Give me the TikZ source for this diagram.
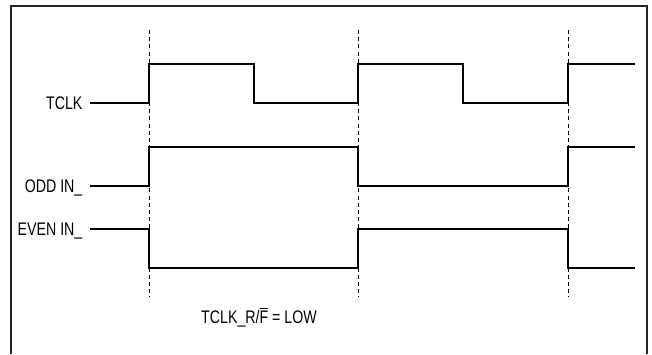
\documentclass[tikz,border=0pt]{standalone}
\usepackage{fontspec}
\setmainfont{Liberation Sans}[FakeStretch=0.78]

\begin{document}
\begin{tikzpicture}[x=0.5pt, y=-0.5pt]
    \tikzstyle{every node} = [font=\fontsize{9.1}{11}\selectfont, inner ysep=0pt, text height=6.5pt, text depth=0pt]
    \tikzstyle{label} = [anchor=east, inner xsep=3.6pt]
    \tikzstyle{wave} = [line width=0.75pt, line join=miter]
    \tikzstyle{edge} = [line width=0.5pt, dash pattern=on 2pt off 1.6pt]

    \useasboundingbox (0,0) rectangle (652,354);
    \draw [line width=1.2pt, black!85] (11,354) -- (11,6) -- (647,6) -- (647,354);

    \node (tclk) at (90,103) [label] {TCLK};
    \node (odd) at (90,186) [label] {ODD IN\_};
    \node (even) at (90,229) [label] {EVEN IN\_};
    \node (mode) at (259,317) {TCLK\_R/$\overline{\mbox{F}}$ = LOW};

    \foreach \x in {149, 358, 568} {
        \coordinate (top\x) at (\x,30);
        \coordinate (bot\x) at (\x,297);
        \draw [edge] (top\x) -- (bot\x);
    }

    \draw [wave] (tclk.east) -- (149,103) -- (149,64) -- (254,64) -- (254,103)
        -- (358,103) -- (358,64) -- (463,64) -- (463,103) -- (568,103) -- (568,64) -- (635,64);

    \draw [wave] (odd.east) -- (149,186) -- (149,147) -- (358,147) -- (358,186)
        -- (568,186) -- (568,147) -- (635,147);

    \draw [wave] (even.east) -- (149,229) -- (149,268) -- (358,268) -- (358,229)
        -- (568,229) -- (568,268) -- (635,268);
\end{tikzpicture}
\end{document}
